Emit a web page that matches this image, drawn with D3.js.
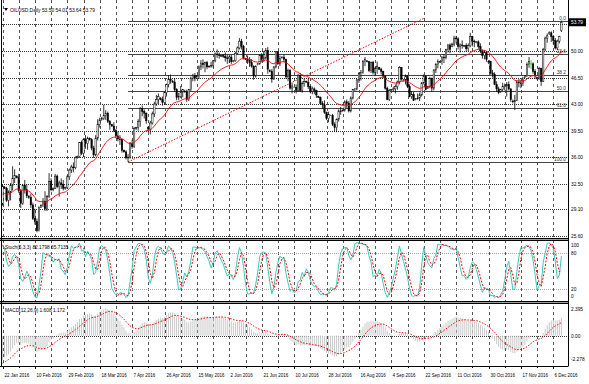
<!DOCTYPE html>
<html>
<head>
<meta charset="utf-8">
<script src="https://cdn.jsdelivr.net/npm/d3@7"></script>
<style>
body { margin: 0; background: #fff; }
svg { display: block; }
text { font-family: "Liberation Sans", Arial, sans-serif; font-size: 6px; fill: #000; }
</style>
</head>
<body>
<svg id="chart" width="589" height="384"></svg>
<script>
// ---- data ----
var titleText = "OILUSD,Daily 53.50 54.01 53.64 53.79";
var stochTitle = "Stoch(5,3,3) 82.1798 65.7135";
var macdTitle = "MACD(12,26,9) 1.608 1.172";

var dateTicks = ["22 Jan 2016", "10 Feb 2016", "29 Feb 2016", "18 Mar 2016", "7 Apr 2016", "26 Apr 2016",
  "15 May 2016", "2 Jun 2016", "21 Jun 2016", "10 Jul 2016", "28 Jul 2016", "16 Aug 2016",
  "4 Sep 2016", "22 Sep 2016", "11 Oct 2016", "30 Oct 2016", "17 Nov 2016", "6 Dec 2016"];
var priceGrid = [53.50, 50.00, 46.50, 43.00, 39.50, 36.00, 32.50, 29.10, 25.60];
var priceLabels = [50.00, 46.50, 43.00, 39.50, 36.00, 32.50, 29.10, 25.60];
var lastPrice = 53.79;
var stochLevels = [100, 80, 20, 0];
var macdLabels = [2.395, 0.00, -2.278];

var fibLevels = [0, 23.6, 38.2, 50, 61.8, 100];
var fibAnchor = [62, 35.36, 54.01];          // start bar, low, high
var trendPoints = [[62, 35.36], [208, 54.3]]; // bar, price

// indicator starting values seen at the left edge
var maSeed = 31.0, ema12Seed = 30.6, ema26Seed = 32.85, signalSeed = -2.28;

// daily candles [open, high, low, close], 22 Jan 2016 .. 11 Dec 2016
var ohlc = [
  [29.8,32.4,29.6,32.2],[32.0,32.2,31.8,31.9],[31.9,32.1,30.1,30.3],[30.3,31.6,29.5,31.4],[31.4,32.6,30.3,32.3],[32.3,34.8,31.6,33.2],[33.2,34.4,32.6,33.6],
  [33.5,33.6,33.2,33.3],[33.3,33.8,31.3,31.6],[31.6,31.8,29.3,29.9],[29.9,32.4,29.7,32.3],[32.3,33.0,31.2,31.7],[31.7,32.4,30.6,30.9],
  [30.8,31.0,30.5,30.7],[30.7,31.2,29.3,29.7],[29.7,30.0,27.7,27.9],[27.9,29.2,27.1,27.5],[27.5,27.9,26.1,26.3],[26.3,29.5,26.2,29.4],
  [29.4,29.8,29.3,29.6],[29.6,30.6,29.4,30.2],[30.2,31.5,28.9,29.2],[29.2,31.0,28.9,30.8],[30.8,33.9,30.6,32.8],[32.8,33.2,31.5,31.7],
  [31.7,32.0,31.5,31.9],[31.9,33.8,31.8,33.5],[33.5,33.7,31.9,32.1],[32.1,32.9,30.8,32.6],[32.6,33.2,31.8,32.4],[32.4,33.0,31.6,31.9],
  [31.9,32.1,31.7,32.0],[32.0,33.6,31.8,33.4],[33.4,34.5,33.0,34.3],[34.3,35.0,33.9,34.7],[34.7,35.3,34.0,34.6],[34.6,36.1,34.4,35.9],
  [36.0,36.2,35.8,36.1],[36.1,38.0,35.9,37.9],[37.9,38.2,36.3,36.5],[36.5,38.5,36.0,38.3],[38.3,38.9,37.1,37.8],[37.8,38.7,37.0,38.5],
  [38.5,38.6,38.2,38.3],[38.3,38.5,36.9,37.2],[37.2,37.5,35.9,36.3],[36.3,38.9,36.1,38.5],[38.5,41.0,38.2,40.3],[40.3,41.2,39.9,40.9],
  [41.0,41.3,40.8,41.1],[41.1,42.9,40.9,41.5],[41.5,42.2,40.9,41.8],[41.8,42.0,40.5,40.7],[40.7,40.9,39.6,40.3],
  [40.3,40.4,40.0,40.1],[40.1,40.6,39.3,39.5],[39.5,39.7,38.5,38.8],[38.8,39.4,38.1,38.4],[38.4,38.9,37.6,38.3],[38.3,38.4,36.6,36.9],
  [36.9,37.0,36.6,36.7],[36.7,36.9,35.7,35.9],[35.9,36.4,35.36,36.0],[36.0,38.0,35.8,37.8],[37.8,38.3,37.1,37.4],[37.4,40.0,37.2,39.8],
  [39.8,40.0,39.6,39.9],[39.9,41.0,39.5,40.7],[40.7,42.6,40.0,42.4],[42.4,42.8,41.4,42.0],[42.0,42.3,41.1,41.8],[41.8,41.9,40.4,40.8],
  [39.9,40.1,39.4,39.7],[39.7,40.8,39.0,40.5],[40.5,42.0,40.3,41.7],[41.7,43.3,41.3,43.0],[43.0,44.2,42.8,43.6],[43.6,44.4,43.0,44.0],
  [43.8,43.9,43.5,43.6],[43.6,44.0,42.8,43.2],[43.2,44.6,42.9,44.5],[44.5,45.7,44.0,45.6],[45.6,46.8,45.2,46.3],[46.3,46.9,45.7,46.1],
  [46.0,46.2,45.8,45.9],[45.9,46.4,44.6,44.9],[44.9,45.1,43.5,43.9],[43.9,44.5,43.5,44.0],[44.0,45.4,43.8,44.6],[44.6,45.0,43.9,44.9],
  [44.7,44.9,44.5,44.6],[44.6,44.9,43.3,43.6],[43.6,45.0,43.4,44.9],[44.9,46.6,44.7,46.4],[46.4,47.0,46.0,46.8],[46.8,47.1,46.0,46.4],
  [46.6,46.8,46.4,46.7],[46.7,48.1,46.3,47.9],[47.9,48.8,47.5,48.4],[48.4,48.9,47.7,48.2],[48.2,48.6,47.2,48.5],[48.5,48.7,47.6,47.9],
  [47.9,48.1,47.8,48.0],[48.0,48.6,47.8,48.1],[48.1,48.8,47.8,48.7],[48.7,49.8,48.5,49.6],[49.6,50.2,49.1,49.5],[49.5,49.8,49.0,49.4],
  [49.3,49.5,49.2,49.4],[49.4,49.6,49.1,49.3],[49.3,49.8,48.6,49.1],[49.1,49.5,48.3,49.0],[49.0,49.4,48.4,49.2],[49.2,49.5,48.3,48.6],
  [48.6,48.8,48.5,48.7],[48.7,49.9,48.6,49.7],[49.7,50.6,49.6,50.4],[50.4,51.7,50.2,51.3],[51.3,51.6,50.2,50.6],[50.6,50.8,48.9,49.1],
  [49.0,49.1,48.8,48.9],[48.9,49.4,48.3,48.8],[48.8,49.2,47.9,48.5],[48.5,48.9,47.8,48.0],[48.0,48.1,46.2,46.7],[46.7,48.1,46.5,48.0],
  [48.2,48.4,48.1,48.3],[48.3,49.6,48.2,49.4],[49.4,49.7,48.5,48.9],[48.9,50.0,48.6,49.1],[49.1,50.4,48.9,50.1],[50.1,50.5,47.0,47.6],
  [47.4,47.6,47.2,47.3],[47.3,47.6,45.8,46.3],[46.3,48.0,46.2,47.9],[47.9,50.0,47.7,49.9],[49.9,50.0,48.2,48.3],[48.3,49.4,48.0,49.0],
  [49.1,49.3,49.0,49.2],[49.2,49.5,48.5,48.9],[48.9,49.0,46.3,46.6],[46.6,47.7,46.0,47.4],[47.4,47.6,44.9,45.1],[45.1,45.8,44.4,45.4],
  [45.2,45.3,45.1,45.2],[45.2,45.6,44.4,44.8],[44.8,47.0,44.6,46.8],[46.8,47.1,44.6,44.8],[44.8,46.0,44.5,45.7],[45.7,46.4,45.3,46.0],
  [46.0,46.1,45.8,45.9],[45.9,46.4,45.0,45.3],[45.3,45.4,44.4,44.7],[44.7,45.3,44.3,45.0],[45.0,45.2,44.3,44.8],[44.8,44.9,43.8,44.2],
  [44.0,44.1,43.8,43.9],[43.9,44.0,42.9,43.1],[43.1,43.4,42.4,42.9],[42.9,43.5,41.7,41.9],[41.9,42.0,40.9,41.1],[41.1,42.0,40.6,41.6],
  [41.5,41.6,41.4,41.5],[41.5,41.7,40.1,40.3],[40.3,40.6,39.4,39.9],[39.9,41.1,39.3,41.0],[41.0,42.3,40.7,42.1],[42.1,42.6,41.6,42.0],
  [42.1,42.3,42.0,42.2],[42.2,43.5,42.0,43.3],[43.3,43.6,42.5,43.1],[43.1,43.4,41.9,42.1],[42.1,44.0,41.9,43.8],[43.8,45.0,43.6,44.9],
  [44.9,45.1,44.7,45.0],[45.0,46.3,44.8,46.2],[46.2,47.2,45.8,47.0],[47.0,47.5,46.1,47.2],[47.2,48.8,47.0,48.6],[48.6,49.2,48.0,48.9],
  [48.7,48.8,48.5,48.6],[48.6,48.7,47.2,47.4],[47.4,48.6,47.1,48.5],[48.5,48.7,46.9,47.2],[47.2,47.9,46.7,47.7],[47.7,48.6,47.0,48.0],
  [47.8,47.9,47.5,47.6],[47.6,47.8,46.9,47.3],[47.3,47.4,46.4,46.7],[46.7,46.8,44.9,45.1],[45.1,45.3,43.5,43.6],[43.6,45.0,43.4,44.8],
  [44.8,45.0,44.7,44.9],[44.9,45.3,44.6,45.0],[45.0,45.6,44.4,45.3],[45.3,46.1,44.9,45.9],[45.9,48.0,45.6,47.8],[47.8,47.9,46.1,46.3],
  [46.1,46.3,46.0,46.2],[46.2,46.9,45.6,46.7],[46.7,46.8,45.1,45.3],[45.3,45.6,43.9,44.0],[44.0,44.7,43.7,44.3],[44.3,44.6,43.4,43.5],
  [43.6,43.8,43.5,43.7],[43.7,44.4,43.6,43.8],[43.8,44.5,43.4,44.2],[44.2,45.9,44.0,45.8],[45.8,46.9,45.6,46.7],[46.7,46.8,44.8,44.9],
  [45.1,45.4,45.0,45.3],[45.3,46.6,45.1,46.4],[46.4,46.5,44.6,45.1],[45.1,47.6,44.8,47.5],[47.5,48.4,47.1,48.2],[48.2,48.9,47.7,48.6],
  [48.5,48.7,48.4,48.6],[48.6,49.3,48.2,49.2],[49.2,49.6,48.4,49.1],[49.1,50.3,48.9,50.2],[50.2,50.9,49.8,50.8],[50.8,51.0,49.7,50.2],
  [50.6,51.1,50.5,50.9],[50.9,52.0,50.6,51.7],[51.7,52.0,51.0,51.6],[51.6,51.8,50.2,50.6],[50.6,51.0,49.8,50.8],[50.8,51.4,50.3,50.7],
  [50.6,50.8,50.5,50.7],[50.7,51.0,49.9,50.3],[50.3,51.0,50.0,50.7],[50.7,52.4,50.5,51.9],[51.9,52.0,50.6,51.3],[51.3,51.5,50.5,51.2],
  [51.1,51.3,51.0,51.2],[51.2,51.4,50.3,50.6],[50.6,51.0,49.7,50.0],[50.0,50.2,49.0,49.4],[49.4,50.1,48.9,49.8],[49.8,50.0,48.6,48.9],
  [48.5,48.8,48.3,48.6],[48.6,48.7,46.9,47.1],[47.1,47.5,46.5,46.9],[46.9,47.2,45.5,45.6],[45.6,46.0,44.6,45.0],[45.0,45.3,44.3,44.5],
  [44.6,45.0,44.5,44.9],[44.9,45.8,44.7,45.3],[45.3,45.7,44.8,45.4],[45.4,45.9,44.0,45.6],[45.6,46.0,44.8,45.0],[45.0,45.1,43.3,43.6],
  [43.4,43.6,43.1,43.3],[43.3,44.2,42.2,43.5],[43.5,46.1,43.4,45.9],[45.9,46.3,45.2,45.8],[45.8,46.2,45.1,45.7],[45.7,46.6,45.4,46.2],
  [46.5,46.8,46.4,46.7],[46.7,48.5,46.6,48.2],[48.2,49.2,47.8,48.6],[48.3,48.8,47.6,48.3],[48.3,48.5,47.0,47.3],[47.3,47.6,46.3,46.7],
  [46.4,46.6,46.2,46.5],[46.5,47.9,46.2,47.7],[47.7,47.8,45.4,46.0],[46.0,50.4,45.9,50.2],[50.2,51.9,50.0,51.7],[51.7,52.3,51.1,52.0],
  [52.3,52.6,52.1,52.4],[52.4,52.6,51.2,51.9],[51.9,52.1,50.9,51.4],[51.4,51.7,50.2,50.4],[50.4,51.5,50.1,51.3],[51.3,52.0,51.0,51.9],
  [52.7,54.01,52.5,53.79]
];

// ---- layout ----
var svg = d3.select("#chart");
var W = 589, H = 384;
var left = 2, right = 568;
var mainTop = 0, mainBot = 238, stTop = 241, stBot = 301, mcTop = 304, mcBot = 366;

var n = ohlc.length;
var x = d3.scaleLinear().domain([0, 276]).range([2.5, 2.5 + 276 * 2.025]);
var y = d3.scaleLinear().domain([25.60, 50.00]).range([236, 51]);
var ys = d3.scaleLinear().domain([0, 100]).range([301, 241]);
var ym = d3.scaleLinear().domain([-2.278, 2.395]).range([364, 306]);

svg.append("rect").attr("width", W).attr("height", H).attr("fill", "#fff");

// narrow text helper (the terminal font is much narrower than anything installed)
function label(g, tx, ty, str, sx, anchor) {
  return g.append("text")
    .attr("transform", "translate(" + tx + "," + ty + ") scale(" + sx + ",1)")
    .attr("text-anchor", anchor || "start")
    .text(str);
}

// ---- indicators ----
var closes = ohlc.map(function (d) { return d[3]; });
var ma = [], e = maSeed;
closes.forEach(function (c) { e = e + (c - e) * 2 / 21; ma.push(e); });

var e12 = ema12Seed, e26 = ema26Seed, sg = signalSeed, macd = [], signal = [];
closes.forEach(function (c) {
  e12 = e12 + (c - e12) * 2 / 13;
  e26 = e26 + (c - e26) * 2 / 27;
  var m = e12 - e26;
  sg = sg + (m - sg) * 2 / 10;
  macd.push(m); signal.push(sg);
});

var lo5 = [], hi5 = [];
for (var i = 0; i < n; i++) {
  var w = ohlc.slice(Math.max(0, i - 4), i + 1);
  lo5.push(d3.min(w, function (d) { return d[2]; }));
  hi5.push(d3.max(w, function (d) { return d[1]; }));
}
var stMain = [], stSig = [];
for (i = 0; i < n; i++) {
  var num = 0, den = 0;
  for (var j = Math.max(0, i - 2); j <= i; j++) { num += closes[j] - lo5[j]; den += hi5[j] - lo5[j]; }
  stMain.push(den ? num / den * 100 : 50);
  stSig.push(d3.mean(stMain.slice(Math.max(0, i - 2), i + 1)));
}

// ---- grid ----
var grid = svg.append("g");
d3.range(0, 277, 8).forEach(function (b) {
  grid.append("line").attr("x1", Math.round(x(b)) + 0.5).attr("x2", Math.round(x(b)) + 0.5)
    .attr("y1", 0).attr("y2", mcBot)
    .attr("stroke", "#555").attr("stroke-dasharray", "3,3");
});
priceGrid.forEach(function (p) {
  grid.append("line").attr("x1", left).attr("x2", right)
    .attr("y1", Math.round(y(p)) + 0.5).attr("y2", Math.round(y(p)) + 0.5)
    .attr("stroke", "#333").attr("stroke-dasharray", "1,1");
});

// ---- clips ----
var defs = svg.append("defs");
defs.append("clipPath").attr("id", "cMain").append("rect").attr("x", left).attr("y", mainTop).attr("width", right - left).attr("height", mainBot - mainTop);
defs.append("clipPath").attr("id", "cSt").append("rect").attr("x", left).attr("y", stTop).attr("width", right - left).attr("height", stBot - stTop);
defs.append("clipPath").attr("id", "cMc").append("rect").attr("x", left).attr("y", mcTop).attr("width", right - left).attr("height", mcBot - mcTop);

// ---- main panel ----
var gm = svg.append("g").attr("clip-path", "url(#cMain)");

// fibonacci lines
var fibPrice = function (l) { return fibAnchor[2] - (fibAnchor[2] - fibAnchor[1]) * l / 100; };
fibLevels.forEach(function (l) {
  var yy = Math.round(y(fibPrice(l))) + 0.5;
  gm.append("line").attr("x1", x(fibAnchor[0])).attr("x2", right).attr("y1", yy).attr("y2", yy)
    .attr("stroke", "#444").attr("stroke-width", 1);
  label(gm, 566, yy - 2, l.toFixed(1), 0.8, "end").style("fill", "#333");
});

// trend line
gm.append("line")
  .attr("x1", x(trendPoints[0][0])).attr("y1", y(trendPoints[0][1]))
  .attr("x2", x(trendPoints[1][0])).attr("y2", y(trendPoints[1][1]))
  .attr("stroke", "#f00").attr("stroke-width", 1).attr("stroke-dasharray", "1.5,1.5");

// candles
var cg = gm.append("g");
ohlc.forEach(function (d, k) {
  var cx = x(k), doji = d[0] === d[3];
  var col = doji ? "#00c000" : "#000";
  cg.append("line").attr("x1", cx).attr("x2", cx).attr("y1", y(d[1])).attr("y2", y(d[2]))
    .attr("stroke", col).attr("stroke-width", 0.8);
  if (doji) {
    cg.append("line").attr("x1", cx - 0.8).attr("x2", cx + 0.8).attr("y1", y(d[0])).attr("y2", y(d[0]))
      .attr("stroke", col).attr("stroke-width", 0.8);
  } else {
    var top = y(Math.max(d[0], d[3])), bot = y(Math.min(d[0], d[3]));
    cg.append("rect").attr("x", cx - 0.7).attr("width", 1.4)
      .attr("y", top).attr("height", Math.max(0.6, bot - top))
      .attr("fill", d[3] > d[0] ? "#fff" : "#000")
      .attr("stroke", "#000").attr("stroke-width", 0.5);
  }
});

// moving average
gm.append("path").datum(ma)
  .attr("d", d3.line().x(function (d, k) { return x(k); }).y(function (d) { return y(d); }))
  .attr("fill", "none").attr("stroke", "#f00").attr("stroke-width", 0.9);

// ---- stochastic panel ----
var gs = svg.append("g").attr("clip-path", "url(#cSt)");
[80, 20].forEach(function (v) {
  gs.append("line").attr("x1", left).attr("x2", right).attr("y1", Math.round(ys(v)) + 0.5).attr("y2", Math.round(ys(v)) + 0.5)
    .attr("stroke", "#aaa").attr("stroke-dasharray", "1,1");
});
var sl = d3.line().x(function (d, k) { return x(k); }).y(function (d) { return ys(d); });
gs.append("path").datum(stMain).attr("d", sl).attr("fill", "none").attr("stroke", "#3cc7b8").attr("stroke-width", 1);
gs.append("path").datum(stSig).attr("d", sl).attr("fill", "none").attr("stroke", "#f00").attr("stroke-width", 1).attr("stroke-dasharray", "2,1.5");

// ---- MACD panel ----
var gc = svg.append("g").attr("clip-path", "url(#cMc)");
gc.append("line").attr("x1", left).attr("x2", right).attr("y1", Math.round(ym(0)) + 0.5).attr("y2", Math.round(ym(0)) + 0.5)
  .attr("stroke", "#333").attr("stroke-dasharray", "1,1");
macd.forEach(function (m, k) {
  gc.append("line").attr("x1", x(k)).attr("x2", x(k)).attr("y1", ym(0)).attr("y2", ym(m))
    .attr("stroke", "#c8c8c8").attr("stroke-width", 1);
});
gc.append("path").datum(signal)
  .attr("d", d3.line().x(function (d, k) { return x(k); }).y(function (d) { return ym(d); }))
  .attr("fill", "none").attr("stroke", "#f00").attr("stroke-width", 1).attr("stroke-dasharray", "1.5,1.5");

// ---- frames and separators ----
[[mainBot, stTop], [stBot, mcTop]].forEach(function (s) {
  svg.append("rect").attr("x", 0).attr("y", s[0]).attr("width", right + 0.5).attr("height", s[1] - s[0])
    .attr("fill", "#a0a0a0");
  svg.append("line").attr("x1", 0).attr("x2", right).attr("y1", s[0] + 0.5).attr("y2", s[0] + 0.5).attr("stroke", "#000");
  svg.append("line").attr("x1", 0).attr("x2", right).attr("y1", s[1] - 0.5).attr("y2", s[1] - 0.5).attr("stroke", "#000");
});
svg.append("line").attr("x1", right + 0.5).attr("x2", right + 0.5).attr("y1", 0).attr("y2", mcBot).attr("stroke", "#000");
svg.append("line").attr("x1", left - 0.5).attr("x2", left - 0.5).attr("y1", 0).attr("y2", mcBot).attr("stroke", "#000");
svg.append("line").attr("x1", 0).attr("x2", right + 0.5).attr("y1", mcBot + 0.5).attr("y2", mcBot + 0.5).attr("stroke", "#000");

// ---- axes text ----
var ax = svg.append("g");
priceLabels.forEach(function (p) {
  label(ax, 571, y(p) + 2, p.toFixed(2), 0.8);
});
ax.append("rect").attr("x", 569).attr("y", y(lastPrice) - 4).attr("width", 17).attr("height", 8).attr("fill", "#000");
label(ax, 571, y(lastPrice) + 2, lastPrice.toFixed(2), 0.8).style("fill", "#fff");

var stPos = {100: 245, 80: 253, 20: 289, 0: 296};
stochLevels.forEach(function (v) {
  label(ax, 571, stPos[v] + 2, String(v), 0.8);
});
macdLabels.forEach(function (v) {
  var yy = v === 0 ? ym(0) : (v > 0 ? 309 : 359);
  label(ax, 571, yy + 2, v.toFixed(v === 0 ? 2 : 3), 0.8);
});

dateTicks.forEach(function (t, k) {
  var xx = Math.round(x(k * 16)) + 0.5;
  ax.append("line").attr("x1", xx).attr("x2", xx).attr("y1", mcBot).attr("y2", mcBot + 3).attr("stroke", "#000");
  label(ax, xx + 1, 377, t, 0.75);
});
d3.range(8, 277, 16).forEach(function (b) {
  var xx = Math.round(x(b)) + 0.5;
  ax.append("line").attr("x1", xx).attr("x2", xx).attr("y1", mcBot).attr("y2", mcBot + 2).attr("stroke", "#000");
});

// titles
ax.append("path").attr("d", "M4,8 L8,8 L6,11 Z").attr("fill", "#000");
label(ax, 10, 12, titleText, 0.82);
label(ax, 5, 249, stochTitle, 0.8);
label(ax, 5, 312, macdTitle, 0.8);
</script>
</body>
</html>
